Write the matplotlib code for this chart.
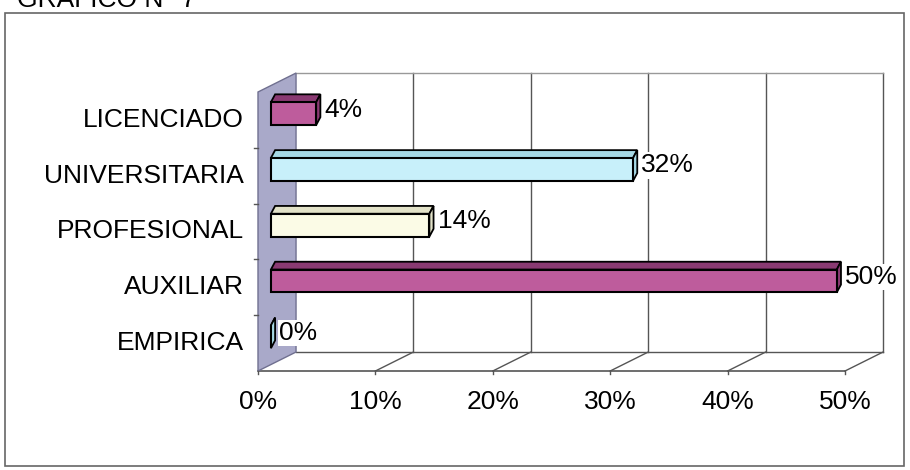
import matplotlib
matplotlib.use("Agg")
import matplotlib.pyplot as plt
from matplotlib.patches import Polygon, Rectangle
from matplotlib.transforms import Affine2D

plt.rcParams['font.family'] = ['Liberation Sans', 'DejaVu Sans']

# data (bottom to top, as drawn)
categorias = ['EMPIRICA', 'AUXILIAR', 'PROFESIONAL', 'UNIVERSITARIA', 'LICENCIADO']
valores = [0, 50, 14, 32, 4]
etiquetas = ['0%', '50%', '14%', '32%', '4%']
ticks_x = [0, 10, 20, 30, 40, 50]
ticks_lbl = ['0%', '10%', '20%', '30%', '40%', '50%']

colores = {
    'EMPIRICA': ('#c8f0fa', '#a6d8e4'),
    'AUXILIAR': ('#be5c9c', '#8a3a72'),
    'PROFESIONAL': ('#fbfbe6', '#e2e2c8'),
    'UNIVERSITARIA': ('#c8f0fa', '#a6d8e4'),
    'LICENCIADO': ('#be5c9c', '#8a3a72'),
}

fig = plt.figure(figsize=(9.1, 4.7), dpi=100)
ax = fig.add_axes([258 / 910, 99 / 470, 587 / 910, 279 / 470])
ax.set_xlim(0, 50)
ax.set_ylim(-0.5, 4.5)
ax.axis('off')

# depth of the 3d box (data units) and of the bars
dx, dy = 3.24, 0.34
bdx, bdy = 0.37, 0.14
alto = 0.41
y0, y1 = -0.5, 4.5
linea = '#555555'
fs = 19

# left wall
pared = Polygon([(0, y0), (0, y1), (dx, y1 + dy), (dx, y0 + dy)], closed=True,
                fc='#a9a9c9', ec='#707090', lw=1, clip_on=False, zorder=1)
ax.add_patch(pared)
for i in range(len(categorias) - 1):
    ax.plot([-0.3, 0], [i + 0.5, i + 0.5], color=linea, lw=1, clip_on=False)

# back wall grid
for v in ticks_x[1:]:
    ax.plot([v + dx, v + dx], [y0 + dy, y1 + dy], color=linea, lw=1, clip_on=False, zorder=0.5)
ax.plot([dx, 50 + dx], [y1 + dy, y1 + dy], color='#999999', lw=1, clip_on=False, zorder=0.5)

# floor
ax.plot([0, 50], [y0, y0], color=linea, lw=1.2, clip_on=False, zorder=0.5)
ax.plot([dx, 50 + dx], [y0 + dy, y0 + dy], color=linea, lw=1, clip_on=False, zorder=0.5)
for v in ticks_x[1:]:
    ax.plot([v, v + dx], [y0, y0 + dy], color=linea, lw=1, clip_on=False, zorder=0.5)
for v, t in zip(ticks_x, ticks_lbl):
    ax.plot([v, v], [y0, y0 - 0.06], color=linea, lw=1, clip_on=False)
    ax.annotate(t, (v, y0), xytext=(0, -31), textcoords='offset pixels',
                ha='center', va='center', fontsize=fs, annotation_clip=False)

# bars live in a plane a bit deeper in the box
plano = Affine2D().scale(0.964, 1).translate(1.1, 0.113) + ax.transData

for i, (cat, val, lab) in enumerate(zip(categorias, valores, etiquetas)):
    frente, sombra = colores[cat]
    a, b = i - alto / 2, i + alto / 2
    top = Polygon([(0, b), (val, b), (val + bdx, b + bdy), (bdx, b + bdy)],
                  closed=True, fc=sombra, ec='black', lw=1.3, transform=plano,
                  clip_on=False, zorder=3)
    lado = Polygon([(val, a), (val, b), (val + bdx, b + bdy), (val + bdx, a + bdy)],
                   closed=True, fc=sombra, ec='black', lw=1.3, transform=plano,
                   clip_on=False, zorder=3)
    cara = Rectangle((0, a), val, alto, fc=frente, ec='black', lw=1.5,
                     transform=plano, clip_on=False, zorder=4)
    ax.add_patch(top)
    ax.add_patch(lado)
    ax.add_patch(cara)
    ax.annotate(lab, (val + bdx, i + bdy / 2), xycoords=plano, xytext=(4, 0),
                textcoords='offset pixels', ha='left', va='center', fontsize=fs,
                bbox=dict(fc='white', ec='none', pad=1), zorder=5,
                annotation_clip=False)
    ax.annotate(cat, (0, i), xytext=(-14, 0), textcoords='offset pixels',
                ha='right', va='center', fontsize=fs, annotation_clip=False)

# outer frame and title (cut off at the top, as in the scan)
fig.patches.append(Rectangle((5 / 910, 4 / 470), 899 / 910, 453 / 470,
                             transform=fig.transFigure, fill=False,
                             ec='#666666', lw=1.2))
fig.text(17 / 910, 1 - 7 / 470, 'GRAFICO N° 7', fontsize=fs, va='baseline')

fig.savefig('out.png', dpi=100)
